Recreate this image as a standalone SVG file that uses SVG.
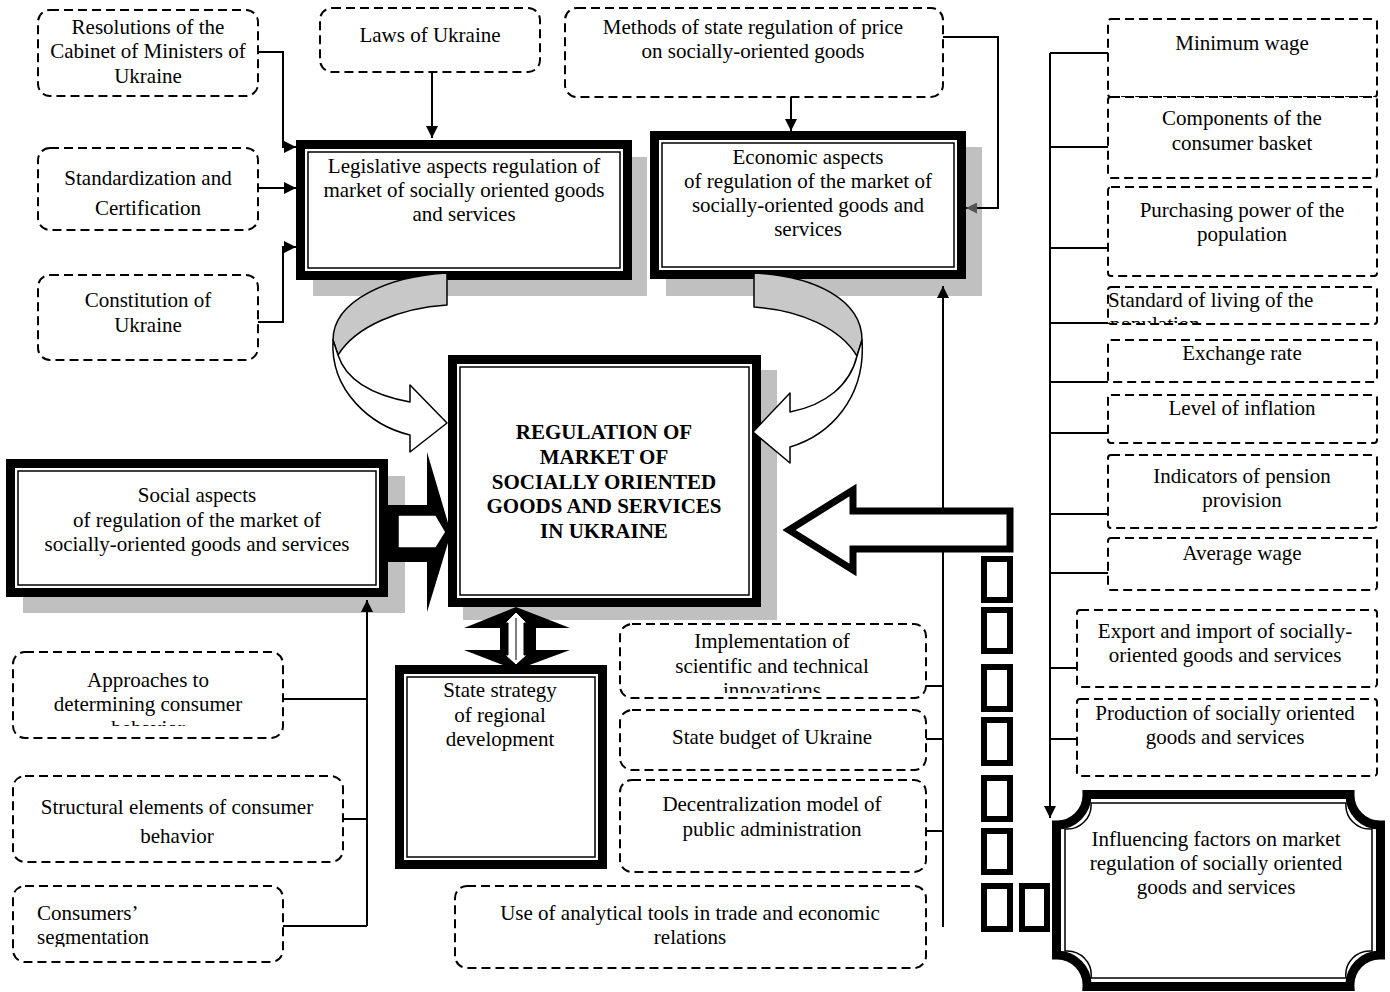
<svg xmlns="http://www.w3.org/2000/svg" width="1390" height="992" viewBox="0 0 1390 992">
<style>
.t{font-family:"Liberation Serif","Times New Roman",serif;font-size:21px;fill:#000;text-anchor:middle}
.s{text-anchor:start}
.b{font-weight:bold}
.d{fill:#fff;stroke:#000;stroke-width:2;stroke-dasharray:9 5}
.ln{fill:none;stroke:#000;stroke-width:2}
.sh{fill:#c0c0c0}
.fo{fill:#fff;stroke:#000;stroke-width:9}
.fi{fill:none;stroke:#000;stroke-width:1.5}
.sq{fill:#fff;stroke:#000;stroke-width:6}
.cv{stroke:#000;stroke-width:1.5;stroke-linejoin:round}
</style>
<defs>
<marker id="ah" viewBox="0 0 10 10" refX="10" refY="5" markerWidth="13" markerHeight="12" markerUnits="userSpaceOnUse" orient="auto"><path d="M0,0 L10,5 L0,10 Z" fill="#000"/></marker>
<marker id="ahg" viewBox="0 0 10 10" refX="10" refY="5" markerWidth="12" markerHeight="11" markerUnits="userSpaceOnUse" orient="auto"><path d="M0,0 L10,5 L0,10 Z" fill="#555"/></marker>
<clipPath id="cStd"><rect x="1100" y="280" width="290" height="43"/></clipPath>
<clipPath id="cImp"><rect x="600" y="620" width="340" height="73"/></clipPath>
<clipPath id="cApp"><rect x="0" y="650" width="300" height="76"/></clipPath>
<clipPath id="cCon"><rect x="0" y="880" width="300" height="67"/></clipPath>
</defs>

<!-- shadows -->
<rect class="sh" x="313" y="157" width="334" height="139"/>
<rect class="sh" x="666" y="147" width="316" height="149"/>
<rect class="sh" x="23" y="476" width="382" height="137"/>
<rect class="sh" x="463" y="370" width="314" height="250"/>

<g id="n-resolutions"><rect class="d" x="38" y="10" width="220" height="86" rx="12"/>
<text class="t" x="148" y="34">Resolutions of the</text><text class="t" x="148" y="58">Cabinet of Ministers of</text><text class="t" x="148" y="83">Ukraine</text></g>
<g id="n-standard"><rect class="d" x="38" y="148" width="220" height="82" rx="12"/>
<text class="t" x="148" y="185">Standardization and</text><text class="t" x="148" y="215">Certification</text></g>
<g id="n-constitution"><rect class="d" x="38" y="275" width="220" height="85" rx="12"/>
<text class="t" x="148" y="307">Constitution of</text><text class="t" x="148" y="332">Ukraine</text></g>
<g id="n-laws"><rect class="d" x="320" y="8" width="220" height="64" rx="12"/>
<text class="t" x="430" y="42">Laws of Ukraine</text></g>
<g id="n-methods"><rect class="d" x="565" y="8" width="378" height="89" rx="12"/>
<text class="t" x="753" y="34">Methods of state regulation of price</text><text class="t" x="753" y="58">on socially-oriented goods</text></g>

<g id="n-legislative"><rect class="fo" x="300.5" y="144.5" width="327" height="131"/><rect class="fi" x="308" y="152" width="312" height="116"/>
<text class="t" x="464" y="173">Legislative aspects regulation of</text><text class="t" x="464" y="197">market of socially oriented goods</text><text class="t" x="464" y="221">and services</text></g>
<g id="n-economic"><rect class="fo" x="654.5" y="135.5" width="307" height="139"/><rect class="fi" x="662" y="143" width="292" height="124"/>
<text class="t" x="808" y="164">Economic aspects</text><text class="t" x="808" y="188">of regulation of the market of</text><text class="t" x="808" y="212">socially-oriented goods and</text><text class="t" x="808" y="236">services</text></g>
<g id="n-central"><rect class="fo" x="452.5" y="359.5" width="304" height="243"/><rect class="fi" x="460" y="367" width="289" height="228"/>
<text class="t b" x="604" y="439">REGULATION OF</text><text class="t b" x="604" y="464">MARKET OF</text><text class="t b" x="604" y="489">SOCIALLY ORIENTED</text><text class="t b" x="604" y="513">GOODS AND SERVICES</text><text class="t b" x="604" y="538">IN UKRAINE</text></g>
<g id="n-social"><rect class="fo" x="10.5" y="463.5" width="373" height="129"/><rect class="fi" x="18" y="471" width="358" height="114"/>
<text class="t" x="197" y="502">Social aspects</text><text class="t" x="197" y="527">of regulation of the market of</text><text class="t" x="197" y="551">socially-oriented goods and services</text></g>
<g id="n-strategy"><rect class="fo" x="399.5" y="669.5" width="203" height="195"/><rect class="fi" x="407" y="677" width="188" height="180"/>
<text class="t" x="500" y="697">State strategy</text><text class="t" x="500" y="722">of regional</text><text class="t" x="500" y="746">development</text></g>

<g id="n-implementation"><rect class="d" x="620" y="624" width="306" height="74" rx="12"/>
<g clip-path="url(#cImp)"><text class="t" x="772" y="648">Implementation of</text><text class="t" x="772" y="673">scientific and technical</text><text class="t" x="772" y="697">innovations</text></g></g>
<g id="n-budget"><rect class="d" x="620" y="710" width="306" height="60" rx="12"/>
<text class="t" x="772" y="744">State budget of Ukraine</text></g>
<g id="n-decentral"><rect class="d" x="620" y="780" width="306" height="92" rx="12"/>
<text class="t" x="772" y="811">Decentralization model of</text><text class="t" x="772" y="836">public administration</text></g>
<g id="n-analytical"><rect class="d" x="455" y="886" width="471" height="82" rx="12"/>
<text class="t" x="690" y="920">Use of analytical tools in trade and economic</text><text class="t" x="690" y="944">relations</text></g>

<g id="n-approaches"><rect class="d" x="13" y="652" width="270" height="86" rx="12"/>
<g clip-path="url(#cApp)"><text class="t" x="148" y="687">Approaches to</text><text class="t" x="148" y="711">determining consumer</text><text class="t" x="148" y="735">behavior</text></g></g>
<g id="n-structural"><rect class="d" x="13" y="776" width="330" height="86" rx="12"/>
<text class="t" x="177" y="814">Structural elements of consumer</text><text class="t" x="177" y="843">behavior</text></g>
<g id="n-consumers"><rect class="d" x="13" y="886" width="270" height="76" rx="12"/>
<g clip-path="url(#cCon)"><text class="t s" x="37" y="920">Consumers’</text><text class="t s" x="37" y="944">segmentation</text></g></g>

<g id="n-minwage"><rect class="d" x="1108" y="19" width="269" height="78" rx="3"/><text class="t" x="1242" y="50">Minimum wage</text></g>
<g id="n-basket"><rect class="d" x="1108" y="97" width="269" height="81" rx="3"/><text class="t" x="1242" y="125">Components of the</text><text class="t" x="1242" y="150">consumer basket</text></g>
<g id="n-purchasing"><rect class="d" x="1108" y="187" width="269" height="89" rx="3"/><text class="t" x="1242" y="217">Purchasing power of the</text><text class="t" x="1242" y="241">population</text></g>
<g id="n-living"><rect class="d" x="1108" y="287" width="269" height="37" rx="3"/>
<g clip-path="url(#cStd)"><text class="t s" x="1108" y="307">Standard of living of the</text><text class="t s" x="1110" y="331">population</text></g></g>
<g id="n-exchange"><rect class="d" x="1108" y="340" width="269" height="42" rx="3"/><text class="t" x="1242" y="360">Exchange rate</text></g>
<g id="n-inflation"><rect class="d" x="1108" y="395" width="269" height="48" rx="3"/><text class="t" x="1242" y="415">Level of inflation</text></g>
<g id="n-pension"><rect class="d" x="1108" y="455" width="269" height="73" rx="3"/><text class="t" x="1242" y="483">Indicators of pension</text><text class="t" x="1242" y="507">provision</text></g>
<g id="n-avgwage"><rect class="d" x="1108" y="538" width="269" height="52" rx="3"/><text class="t" x="1242" y="560">Average wage</text></g>
<g id="n-export"><rect class="d" x="1077" y="610" width="300" height="77" rx="3"/><text class="t" x="1225" y="638">Export and import of socially-</text><text class="t" x="1225" y="662">oriented goods and services</text></g>
<g id="n-production"><rect class="d" x="1077" y="699" width="300" height="77" rx="3"/><text class="t" x="1225" y="720">Production of socially oriented</text><text class="t" x="1225" y="744">goods and services</text></g>

<g id="n-influencing">
<path d="M1087,794.5 H1350 A30,30 0 0 0 1380.5,825 V955 A30,30 0 0 0 1350,986.5 H1087 A30,30 0 0 0 1056.5,955 V825 A30,30 0 0 0 1087,794.5 Z" fill="#fff" stroke="#000" stroke-width="9"/>
<path d="M1091,803 H1346 A24,24 0 0 0 1372,829 V951 A24,24 0 0 0 1346,978 H1091 A24,24 0 0 0 1065,951 V829 A24,24 0 0 0 1091,803 Z" fill="none" stroke="#000" stroke-width="1.5"/>
<text class="t" x="1216" y="846">Influencing factors on market</text><text class="t" x="1216" y="870">regulation of socially oriented</text><text class="t" x="1216" y="894">goods and services</text></g>

<g id="connectors">
<path class="ln" d="M258,52 H283 V147 H296" marker-end="url(#ah)"/>
<path class="ln" d="M258,188 H296" marker-end="url(#ah)"/>
<path class="ln" d="M258,322 H283 V247 H296" marker-end="url(#ah)"/>
<path class="ln" d="M432,72 V138" marker-end="url(#ah)"/>
<path class="ln" d="M791,97 V131" marker-end="url(#ah)"/>
<path class="ln" d="M943,37 H998 V208 H966" marker-end="url(#ahg)"/>
<path class="ln" d="M943,927 V286" marker-end="url(#ah)"/>
<path class="ln" d="M926,686 H943 M926,739 H943 M926,831 H943"/>
<path class="ln" d="M1050,53 V818" marker-end="url(#ah)"/>
<path class="ln" d="M1050,53 H1108 M1050,147 H1108 M1050,248 H1108 M1050,323 H1108 M1050,382 H1108 M1050,433 H1108 M1050,514 H1108 M1050,573 H1108 M1050,668 H1077 M1050,739 H1077"/>
<path class="ln" d="M367,926 V600" marker-end="url(#ah)"/>
<path class="ln" d="M283,699 H367 M343,819 H367 M283,926 H367"/>

<polygon points="789,530 853,490 853,511 1010,511 1010,549 853,549 853,570" fill="#fff" stroke="#000" stroke-width="7" stroke-linejoin="miter"/>
<rect class="sq" x="984" y="559" width="26" height="41"/>
<rect class="sq" x="984" y="610" width="26" height="41"/>
<rect class="sq" x="984" y="667" width="26" height="42"/>
<rect class="sq" x="984" y="720" width="26" height="43"/>
<rect class="sq" x="984" y="778" width="26" height="41"/>
<rect class="sq" x="984" y="831" width="26" height="41"/>
<rect class="sq" x="984" y="886" width="26" height="43"/>
<rect class="sq" x="1022" y="886" width="25" height="43"/>

<polygon points="388,505 427,505 427,452 451,533 427,612 427,562 388,562" fill="#000"/>
<path d="M398,515 H436 L446,532 L436,548 H398 Z" fill="#fff" stroke="#000" stroke-width="1.5"/>

<polygon points="516,607 570,628 536,628 536,650 570,650 516,670 464,650 500,650 500,628 464,628" fill="#000"/>
<path d="M516,612 L527,623 L524,623 L524,655 L527,655 L516,665 L505,655 L508,655 L508,623 L505,623 Z" fill="#fff" stroke="#000" stroke-width="1"/>
<path d="M516,618 V660" stroke="#000" stroke-width="1"/>

<path class="cv" d="M447,273 C390,276 333,300 333,340 L338,355 C356,326 400,308 447,305 Z" fill="#c8c8c8"/>
<path class="cv" d="M333,340 C330,392 372,426 410,435 L410,452 L447,423 L410,385 L410,402 C372,395 346,380 338,355 Z" fill="#fff"/>
<path class="cv" d="M754,273 C815,276 862,300 862,340 L857,356 C840,328 800,310 754,307 Z" fill="#c8c8c8"/>
<path class="cv" d="M862,340 C866,398 830,435 790,447 L790,463 L753,432 L790,393 L790,412 C826,405 850,385 857,356 Z" fill="#fff"/>
</g>
</svg>
